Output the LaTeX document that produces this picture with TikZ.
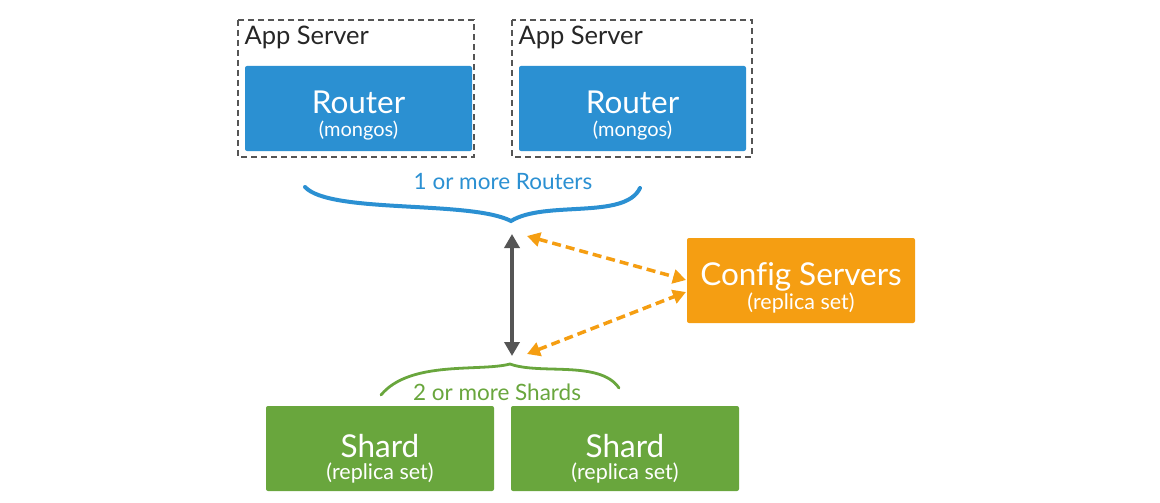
\documentclass[tikz,border=0pt]{standalone}
\usepackage{fontspec}
\setmainfont{Lato}[Ligatures=NoCommon]
\usetikzlibrary{arrows.meta}
\definecolor{routerblue}{HTML}{2B90D2}
\definecolor{cfgorange}{HTML}{F59E12}
\definecolor{shardgreen}{HTML}{69A63D}
\definecolor{darkgray}{HTML}{555555}
\tikzset{
  appbox/.style={draw=darkgray, dashed, line width=1.6pt, dash pattern=on 6pt off 4pt},
  filledbox/.style={rounded corners=2pt, draw=none},
  bigtxt/.style={font=\fontsize{31.5}{33}\selectfont, text=white},
  smalltxt/.style={font=\fontsize{21.5}{23}\selectfont, text=white},
  lbl/.style={font=\fontsize{25.5}{27}\selectfont, text=black!85},
  bracelbl/.style={font=\fontsize{22.5}{24}\selectfont},
}
\begin{document}
\begin{tikzpicture}[x=1pt,y=-1pt]
\useasboundingbox (0,0) rectangle (1160,503);
% App servers
\draw[appbox] (238,20) rectangle (474,157);
\draw[appbox] (512,20) rectangle (752,157);
\node[lbl, anchor=west] (as1) at (241,37) {App Server};
\node[lbl, anchor=west] (as2) at (515,37) {App Server};
% Routers
\fill[routerblue, filledbox] (245,66) rectangle (472,151);
\fill[routerblue, filledbox] (519,66) rectangle (746,151);
\node[bigtxt] (r1) at (358.5,102) {Router};
\node[smalltxt, font=\fontsize{20}{22}\selectfont] (r1s) at (358.5,131) {(mongos)};
\node[bigtxt] (r2) at (632.5,102) {Router};
\node[smalltxt, font=\fontsize{20}{22}\selectfont] (r2s) at (632.5,131) {(mongos)};
% Router brace
\draw[routerblue, line width=4pt, line cap=round]
  (305,187) .. controls (330,214) and (470,200) .. (511,221)
  .. controls (545,200) and (625,220) .. (640,188);
\node[bracelbl, text=routerblue] (rl) at (503,182) {1 or more Routers};
\coordinate (rtip) at (512,234);
\coordinate (stip) at (512,356);
% Config servers
\fill[cfgorange, filledbox] (687,238) rectangle (915,323);
\node[bigtxt] (cfg) at (801,277) {Config Servers};
\node[smalltxt] (cfgs) at (801,303) {(replica set)};
% gray arrow
\draw[darkgray, line width=4.5pt, {Triangle[length=14pt,width=15pt]}-{Triangle[length=14pt,width=15pt]}] (rtip) -- (stip);
% orange dashed arrows
\coordinate (c1) at (527,236);
\coordinate (c2) at (686,280);
\coordinate (c3) at (527,354);
\coordinate (c4) at (686,292);
\draw[cfgorange, line width=3.5pt, dash pattern=on 9pt off 5pt, {Triangle[length=13pt,width=14pt]}-{Triangle[length=13pt,width=14pt]}] (c1) -- (c2);
\draw[cfgorange, line width=3.5pt, dash pattern=on 9pt off 5pt, {Triangle[length=13pt,width=14pt]}-{Triangle[length=13pt,width=14pt]}] (c3) -- (c4);
% Shard brace
\draw[shardgreen, line width=2.8pt, line cap=round]
  (381,395) .. controls (410,360) and (480,372) .. (510,364)
  .. controls (540,375) and (600,360) .. (619,388);
\node[bracelbl, text=shardgreen] (sl) at (497,392) {2 or more Shards};
% Shards
\fill[shardgreen, filledbox] (266,406) rectangle (494,491);
\fill[shardgreen, filledbox] (511,406) rectangle (739,491);
\node[bigtxt] (s1) at (380,446) {Shard};
\node[smalltxt] (s1s) at (380,473) {(replica set)};
\node[bigtxt] (s2) at (625,446) {Shard};
\node[smalltxt] (s2s) at (625,473) {(replica set)};
\end{tikzpicture}
\end{document}
